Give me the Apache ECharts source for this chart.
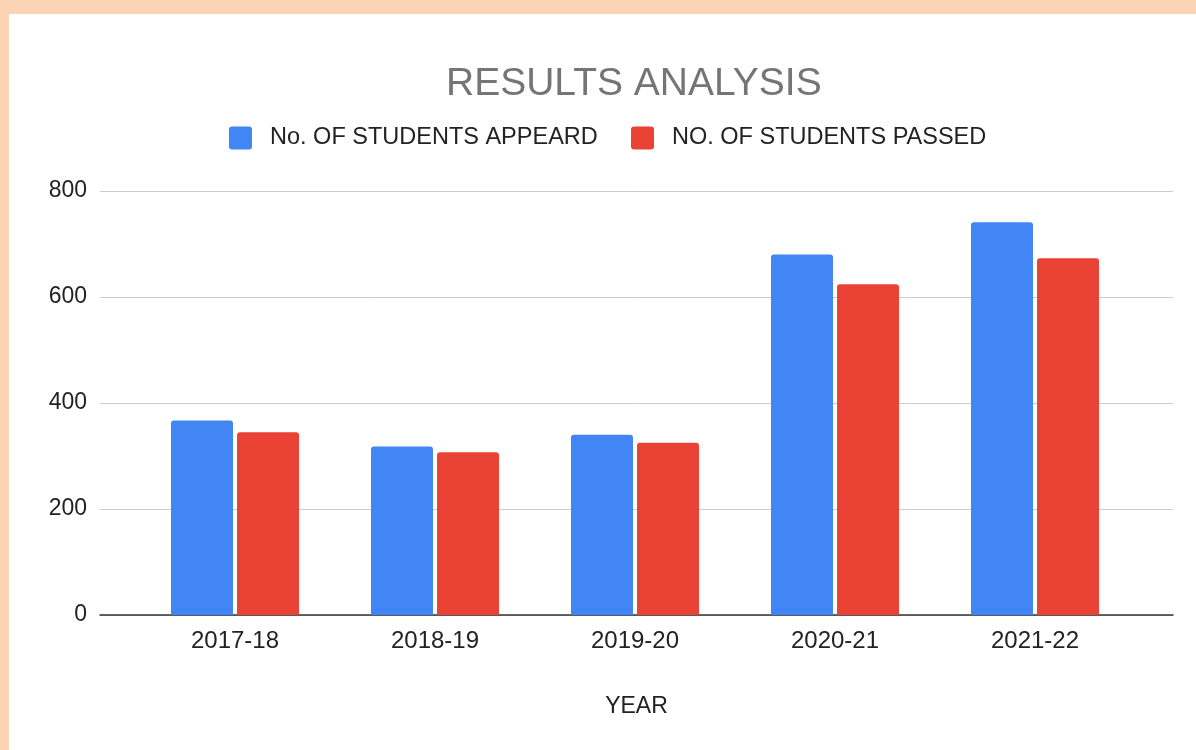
<!DOCTYPE html>
<html>
<head>
<meta charset="utf-8">
<script src="https://cdn.jsdelivr.net/npm/echarts@6/dist/echarts.min.js"></script>
<style>
    html, body { margin: 0; padding: 0; background: #fcd4b3; }
    #paper { position: absolute; left: 9px; top: 14px; right: 0; bottom: 0; background: #ffffff; }
    #chart { position: absolute; left: 0; top: 0; width: 1196px; height: 750px; }
</style>
</head>
<body>
<div id="paper"></div>
<div id="chart"></div>
<script>
// data
var years = ['2017-18', '2018-19', '2019-20', '2020-21', '2021-22'];
var appeared = [367, 318, 340, 680, 741];
var passed = [345, 307, 325, 624, 673];
var seriesNames = ['No. OF STUDENTS APPEARD', 'NO. OF STUDENTS PASSED'];
var yTicks = [0, 200, 400, 600, 800];

var font = '"Liberation Sans", Arial, sans-serif';
// small rounded square for legend
var squareIcon = 'path://M3,0 H20 Q23,0 23,3 V20 Q23,23 20,23 H3 Q0,23 0,20 V3 Q0,0 3,0 Z';

var myChart = echarts.init(document.getElementById('chart'));
var option = {
    animation: false,
    title: {
        text: 'RESULTS ANALYSIS',
        left: 446,
        top: 65,
        padding: 0,
        textStyle: { color: '#757575', fontSize: 39, fontWeight: 'normal', fontFamily: font }
    },
    legend: [{
        data: [seriesNames[0]],
        icon: squareIcon,
        left: 229,
        top: 126,
        padding: 0,
        itemWidth: 23,
        itemHeight: 23,
        textStyle: { color: '#222', fontSize: 23.5, fontFamily: font, padding: [0, 0, 0, 13] }
    }, {
        data: [seriesNames[1]],
        icon: squareIcon,
        left: 631,
        top: 126,
        padding: 0,
        itemWidth: 23,
        itemHeight: 23,
        textStyle: { color: '#222', fontSize: 23.5, fontFamily: font, padding: [0, 0, 0, 13] }
    }],
    grid: [
        // background grid: gridlines, y labels, base line
        { left: 100, right: 23, top: 191, bottom: 135 },
        // bar grid: narrower category band
        { left: 135, right: 61, top: 191, bottom: 135 }
    ],
    xAxis: [{
        gridIndex: 0,
        type: 'category',
        data: [''],
        axisLine: { show: true, lineStyle: { color: '#333', width: 1.5 } },
        axisTick: { show: false },
        axisLabel: { show: false },
        name: 'YEAR',
        nameLocation: 'middle',
        nameGap: 80,
        nameTextStyle: { color: '#222', fontSize: 23, fontFamily: font }
    }, {
        gridIndex: 1,
        type: 'category',
        data: years,
        axisLine: { show: false },
        axisTick: { show: false },
        axisLabel: { color: '#222', fontSize: 24, fontFamily: font, margin: 14 }
    }],
    yAxis: [{
        gridIndex: 0,
        type: 'value',
        min: yTicks[0],
        max: yTicks[yTicks.length - 1],
        interval: 200,
        axisLine: { show: false },
        axisTick: { show: false },
        axisLabel: { color: '#222', fontSize: 23, fontFamily: font, margin: 13 },
        splitLine: { lineStyle: { color: '#cccccc', width: 1 } }
    }, {
        gridIndex: 1,
        type: 'value',
        min: yTicks[0],
        max: yTicks[yTicks.length - 1],
        interval: 200,
        show: false,
        splitLine: { show: false }
    }],
    series: [{
        name: seriesNames[0],
        type: 'bar',
        xAxisIndex: 1,
        yAxisIndex: 1,
        data: appeared,
        barWidth: 62,
        barGap: '6.5%',
        itemStyle: { color: '#4285f4', borderRadius: [3, 3, 0, 0] }
    }, {
        name: seriesNames[1],
        type: 'bar',
        xAxisIndex: 1,
        yAxisIndex: 1,
        data: passed,
        barWidth: 62,
        barGap: '6.5%',
        itemStyle: { color: '#ea4335', borderRadius: [3, 3, 0, 0] }
    }]
};

myChart.setOption(option);
</script>
</body>
</html>
